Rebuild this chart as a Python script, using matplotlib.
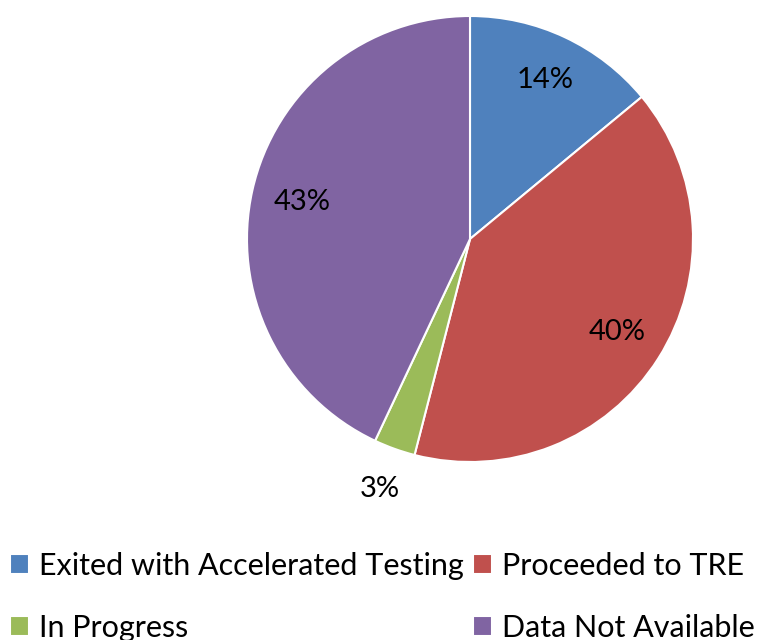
import matplotlib
matplotlib.use("Agg")
import matplotlib.pyplot as plt
import numpy as np

categories = ["Exited with Accelerated Testing", "Proceeded to TRE", "In Progress", "Data Not Available"]
values = [14, 40, 3, 43]
colors = ["#4F81BD", "#C0504D", "#9BBB59", "#8064A2"]
label_dist = [0.79, 0.78, 1.19, 0.77]

plt.rcParams['font.family'] = ['Lato', 'DejaVu Sans']

fig = plt.figure(figsize=(7.67, 6.4), dpi=100)
ax = fig.add_axes([(470 - 223) / 767, (640 - 462) / 640, 446 / 767, 446 / 640])
wedges, _ = ax.pie(values, colors=colors, startangle=90, counterclock=False,
                   wedgeprops=dict(edgecolor='white', linewidth=1.5), radius=1)
ax.set_xlim(-1, 1)
ax.set_ylim(-1, 1)
ax.set_aspect('equal')
ax.axis('off')

for w, v, d in zip(wedges, values, label_dist):
    ang = np.deg2rad((w.theta1 + w.theta2) / 2)
    ax.text(d * np.cos(ang), d * np.sin(ang), f"{v}%", ha='center', va='center',
            fontsize=21, color='black', clip_on=False)

order = [0, 2, 1, 3]
leg = fig.legend([wedges[i] for i in order], [categories[i] for i in order], ncol=2,
                 loc='upper left', bbox_to_anchor=(0.0135, 0.1375), frameon=False,
                 fontsize=22, handlelength=0.62, handleheight=0.62, handletextpad=0.32,
                 columnspacing=0.3, labelspacing=1.1, borderaxespad=0, borderpad=0)

fig.savefig("out.png", dpi=100)
